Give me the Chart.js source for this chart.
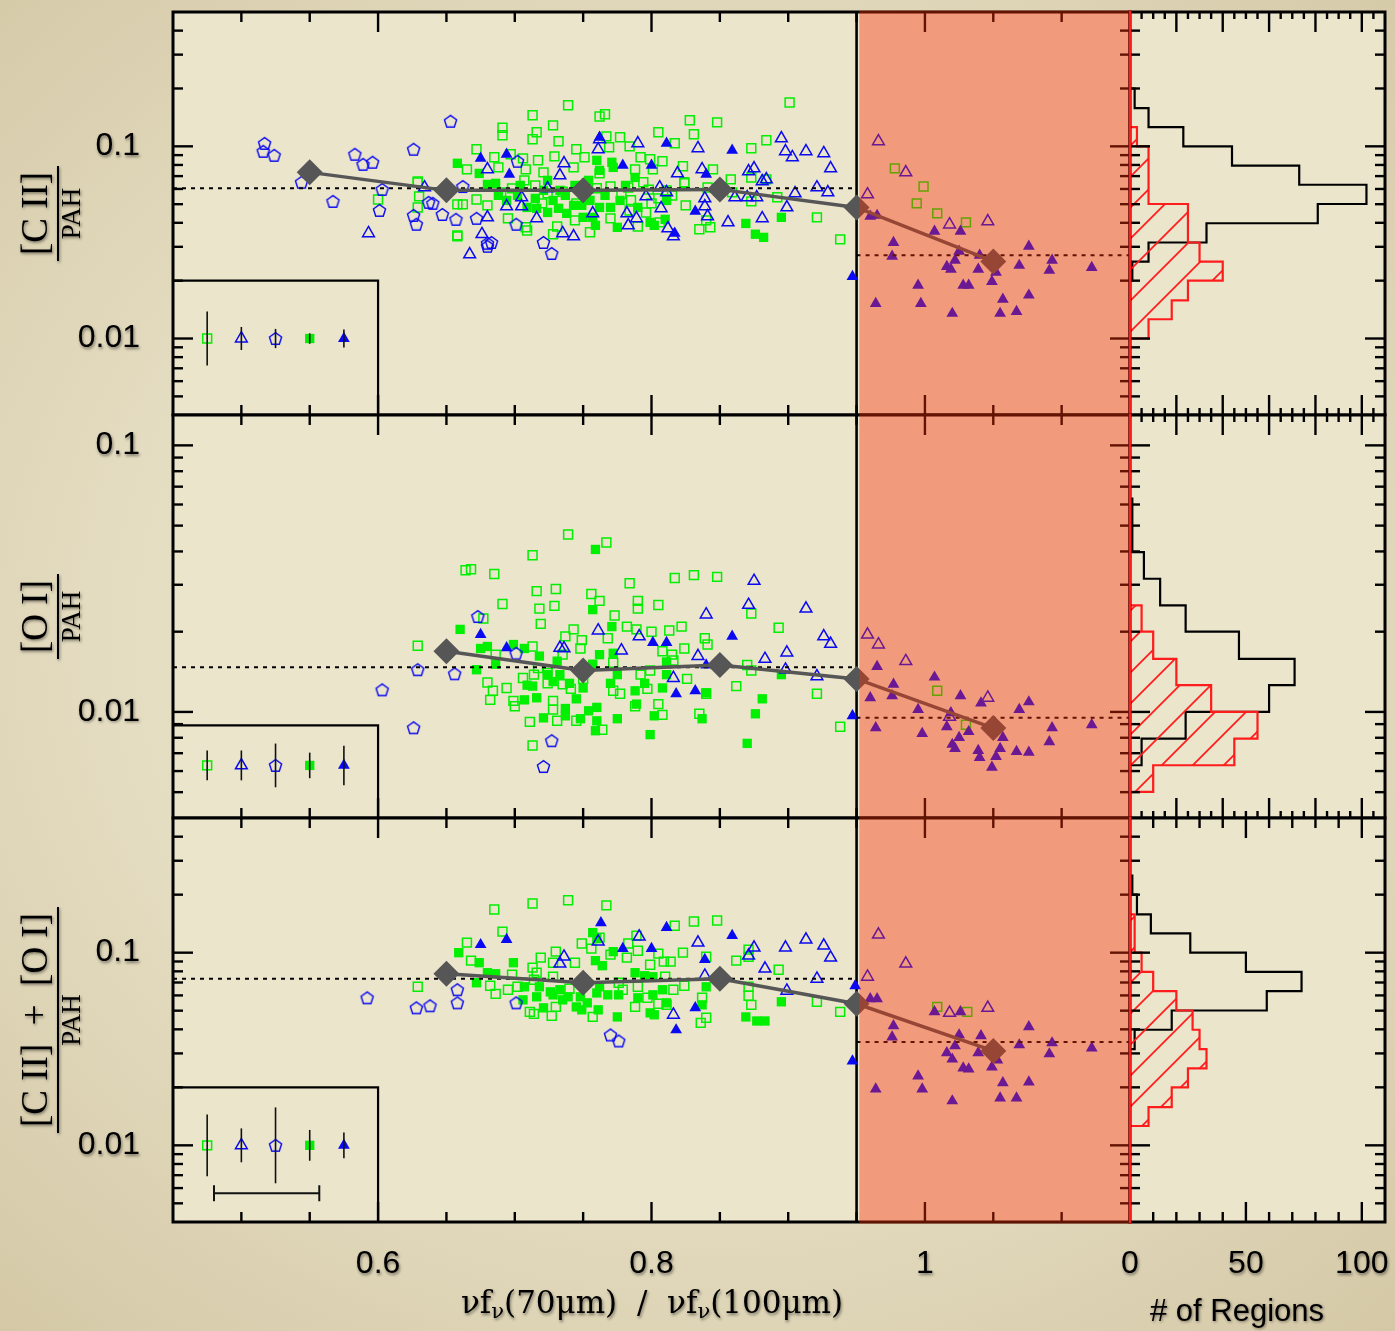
<!DOCTYPE html>
<html lang="en">
<head>
<meta charset="utf-8">
<title>[C II], [O I] / PAH vs far-IR colour</title>
<script src="https://cdn.jsdelivr.net/npm/chart.js@4.4.1/dist/chart.umd.min.js"></script>
<style>
  html, body { margin: 0; padding: 0; }
  body {
    width: 1395px; height: 1331px; position: relative; overflow: hidden;
    background: radial-gradient(ellipse 75% 70% at 50% 48%, #ebe5cd 0%, #e5ddc2 55%, #d4c8a6 100%);
  }
  canvas { position: absolute; }
</style>
</head>
<body>
<script>
// ---- Axes / ticks ----
const X_MIN = 0.45, X_MAX = 1.15;
const Y_RANGES = [[0.004, 0.5], [0.004, 0.13], [0.004, 0.5]];
const xTickLabels = [0.6, 0.8, 1];
const yTickLabels = [0.01, 0.1];
const countTickLabels = [0, 50, 100];
const COUNT_MAX = 110;
const lineX = 0.95;        // vertical divider
const shadeFrom = 0.952;   // start of the shaded (warm) region

const yTitleTop = ['[C II]', '[O I]', '[C II]  +  [O I]'];
const yTitleBottom = 'PAH';

// ---- Binned medians (grey diamonds) and dotted medians ----
const trendX = [0.55, 0.65, 0.75, 0.85, 0.95, 1.05];
const trendY1 = [0.0732, 0.059, 0.059, 0.0597, 0.0481, 0.0252];
const trendY2 = [null, 0.0169, 0.0143, 0.015, 0.0133, 0.0087];
const trendY3 = [null, 0.0777, 0.0698, 0.0732, 0.0543, 0.0309];
const medianLeft = [0.0605, 0.0147, 0.0732];
const medianRight = [0.0271, 0.0095, 0.0344];

// ---- Typical error bars (inset boxes) ----
const insetX = [0.475, 0.5, 0.525, 0.55, 0.575];
const insetY = [0.01, 0.0063, 0.01];
const insetTop = [0.02, 0.0089, 0.02];
const insetErr1 = [0.14, 0.06, 0.05, 0.027, 0.047];   // dex
const insetErr2 = [0.056, 0.056, 0.082, 0.048, 0.074];
const insetErr3 = [0.16, 0.088, 0.197, 0.08, 0.067];
const xErrCenter = 0.5185, xErrHalf = 0.0385, xErrLevel = 0.00564;

// ---- Panel 1: [C II]/PAH ----
const p1GreenOpen = [[0.600,0.0529],[0.629,0.0649],[0.630,0.0549],[0.629,0.0481],[0.658,0.034],[0.658,0.0499],
  [0.739,0.1635],[0.901,0.169],[0.713,0.145],[0.762,0.143],[0.766,0.147],[0.728,0.1286],
  [0.691,0.125],[0.691,0.1141],[0.716,0.1183],[0.713,0.1088],[0.732,0.1062],[0.767,0.1127],
  [0.777,0.1115],[0.805,0.1183],[0.828,0.1366],[0.848,0.1333],[0.831,0.1155],[0.817,0.1037],
  [0.884,0.1075],[0.873,0.0977],[0.672,0.0965],[0.685,0.0877],[0.697,0.0909],[0.706,0.0866],
  [0.717,0.0846],[0.729,0.0887],[0.745,0.0965],[0.751,0.0877],[0.769,0.0989],[0.784,0.1],
  [0.792,0.0877],[0.799,0.0856],[0.808,0.0836],[0.823,0.0787],[0.845,0.0759],[0.665,0.0759],
  [0.688,0.0777],[0.708,0.0759],[0.721,0.0732],[0.743,0.0777],[0.762,0.0723],[0.788,0.0759],
  [0.801,0.0759],[0.824,0.065],[0.858,0.0673],[0.873,0.0689],[0.884,0.0673],[0.629,0.0657],
  [0.662,0.0499],[0.672,0.0529],[0.680,0.0493],[0.698,0.0604],[0.707,0.0665],[0.724,0.0569],
  [0.770,0.0618],[0.783,0.0611],[0.794,0.065],[0.805,0.0536],[0.824,0.0642],[0.811,0.059],
  [0.841,0.0611],[0.859,0.0576],[0.873,0.0517],[0.892,0.0543],[0.658,0.0344],[0.695,0.0422],
  [0.709,0.0365],[0.708,0.0379],[0.731,0.0383],[0.728,0.0349],[0.744,0.0412],[0.755,0.0357],
  [0.770,0.0422],[0.790,0.0383],[0.806,0.0402],[0.825,0.0493],[0.835,0.037],[0.843,0.0379],
  [0.921,0.0427],[0.938,0.0328],[0.840,0.0412],[0.796,0.0453],[0.784,0.0464],
  [0.735,0.058],[0.752,0.0545],[0.778,0.0565],[0.798,0.0595],[0.815,0.0555],[0.690,0.0575],
  [0.715,0.0625],[0.760,0.0605],[0.785,0.0525],[0.745,0.0505],[0.720,0.0505],[0.800,0.0505],
  [0.978,0.0768],[0.999,0.0618],[0.994,0.0505],[1.009,0.0448],[1.030,0.0402]];
const p1GreenFilled = [[0.658,0.0816],[0.674,0.0723],[0.680,0.0634],[0.686,0.0642],[0.715,0.0536],[0.716,0.0476],
  [0.748,0.059],[0.760,0.0846],[0.762,0.075],[0.771,0.0826],[0.772,0.0777],[0.775,0.0379],
  [0.770,0.0481],[0.788,0.0689],[0.790,0.0481],[0.799,0.0402],[0.802,0.0388],[0.810,0.0417],
  [0.811,0.0523],[0.869,0.0397],[0.876,0.0349],[0.882,0.0336],[0.895,0.0427],[0.759,0.0388],
  [0.750,0.0427],[0.738,0.0448],[0.732,0.0476],[0.728,0.0523],[0.743,0.0493],[0.737,0.0556],
  [0.724,0.0453],[0.721,0.059],[0.724,0.0665],[0.754,0.0665],[0.755,0.0523],[0.762,0.0481],
  [0.757,0.0427],[0.694,0.0523],[0.702,0.0556],[0.709,0.0481],[0.749,0.0493],
  [0.733,0.059],[0.744,0.0626],[0.766,0.0556],[0.777,0.0523],[0.781,0.0626],[0.704,0.0626],[0.688,0.0556]];
const p1Pent = [[0.517,0.1036],[0.516,0.0942],[0.524,0.0898],[0.544,0.065],[0.567,0.0517],[0.583,0.0909],
  [0.589,0.0806],[0.596,0.0826],[0.603,0.0597],[0.601,0.0464],[0.626,0.0965],[0.626,0.0437],
  [0.628,0.0393],[0.637,0.0511],[0.640,0.0505],[0.647,0.0442],[0.657,0.0417],[0.653,0.135],
  [0.662,0.0618],[0.672,0.0422],[0.702,0.0836],[0.701,0.0393],[0.680,0.0313],[0.680,0.0302],
  [0.683,0.0316],[0.721,0.0316],[0.727,0.0277]];
const p1TriOpen = [[0.593,0.0353],[0.634,0.0611],[0.667,0.0274],[0.680,0.0759],[0.680,0.0427],[0.676,0.0349],
  [0.694,0.0487],[0.705,0.0543],[0.705,0.0487],[0.716,0.0422],[0.724,0.0604],[0.733,0.0706],
  [0.736,0.0816],[0.735,0.0353],[0.743,0.034],[0.757,0.0448],[0.761,0.0965],[0.762,0.1088],
  [0.790,0.1037],[0.782,0.0448],[0.783,0.0388],[0.789,0.0422],[0.796,0.0549],[0.806,0.0611],
  [0.807,0.0476],[0.811,0.0576],[0.812,0.0374],[0.816,0.034],[0.819,0.0723],[0.834,0.0977],
  [0.837,0.0759],[0.839,0.0536],[0.839,0.0487],[0.841,0.0432],[0.856,0.0402],[0.861,0.0543],
  [0.870,0.0543],[0.871,0.0741],[0.875,0.0768],[0.877,0.0543],[0.881,0.0657],[0.884,0.0673],
  [0.881,0.0422],[0.895,0.110],[0.898,0.0942],[0.903,0.0877],[0.899,0.0481],[0.905,0.0569],
  [0.913,0.0942],[0.921,0.0611],[0.926,0.092],[0.929,0.0576],[0.931,0.0768],
  [0.958,0.0562],[0.966,0.1062],[0.986,0.0732],[1.018,0.0392],[1.046,0.0407]];
const p1TriFilled = [[0.675,0.0866],[0.694,0.0909],[0.696,0.0715],[0.762,0.1115],[0.779,0.0796],[0.811,0.1037],
  [0.800,0.0796],[0.832,0.0459],[0.840,0.0715],[0.859,0.0953],[0.817,0.0353],[0.947,0.021],
  [0.960,0.0432],[0.965,0.0437],[1.007,0.0361],[1.026,0.0361],[0.977,0.0316],[0.976,0.0268],
  [1.025,0.0284],[1.022,0.0255],[1.016,0.0237],[1.019,0.0229],[1.039,0.0229],[1.040,0.0271],
  [1.052,0.0221],[1.049,0.0198],[1.076,0.0302],[1.069,0.024],[1.093,0.0255],[1.091,0.0226],
  [1.122,0.0234],[0.995,0.0189],[1.028,0.0189],[1.032,0.0189],[0.964,0.0152],[0.997,0.0152],
  [1.020,0.0135],[1.057,0.016],[1.076,0.0168],[1.055,0.0135],[1.067,0.0138]];

// ---- Panel 2: [O I]/PAH ----
const p2GreenOpen = [[0.739,0.0463],[0.767,0.0432],[0.713,0.0387],[0.664,0.034],[0.668,0.0343],[0.685,0.0329],
  [0.716,0.0284],[0.730,0.0289],[0.691,0.0254],[0.718,0.0244],[0.729,0.025],[0.756,0.0277],
  [0.762,0.0261],[0.784,0.0304],[0.817,0.0318],[0.831,0.0326],[0.848,0.0321],[0.719,0.0214],
  [0.677,0.0224],[0.773,0.023],[0.790,0.0261],[0.790,0.0244],[0.805,0.0252],[0.782,0.0209],
  [0.789,0.0204],[0.800,0.02],[0.813,0.0202],[0.822,0.0209],[0.893,0.0207],[0.873,0.0234],
  [0.629,0.0177],[0.737,0.0192],[0.743,0.0204],[0.749,0.0186],[0.768,0.0189],[0.748,0.0173],
  [0.735,0.0164],[0.713,0.0176],[0.686,0.0164],[0.824,0.0173],[0.808,0.0169],[0.815,0.0164],
  [0.839,0.0189],[0.841,0.0179],[0.870,0.015],[0.873,0.0143],[0.862,0.0125],[0.921,0.0117],
  [0.938,0.0088],[0.680,0.0129],[0.684,0.012],[0.682,0.0111],[0.694,0.0123],[0.699,0.011],
  [0.700,0.0105],[0.714,0.0138],[0.724,0.0128],[0.728,0.011],[0.728,0.0102],[0.711,0.00918],
  [0.713,0.00748],[0.731,0.00926],[0.745,0.00926],[0.764,0.00857],[0.741,0.0122],[0.772,0.012],
  [0.777,0.0117],[0.797,0.0122],[0.805,0.0107],[0.788,0.0105],[0.808,0.00975],[0.835,0.00984],
  [0.840,0.0117],[0.816,0.0156],[0.772,0.0153],[0.750,0.0133],[0.735,0.0127],[0.724,0.014],
  [0.706,0.0134],[0.717,0.0146],[0.799,0.0143],[0.792,0.0138],[0.826,0.0133],
  [1.009,0.012],[1.030,0.00895]];
const p2GreenFilled = [[0.759,0.0407],[0.757,0.0242],[0.660,0.0204],[0.672,0.0144],[0.675,0.0173],[0.680,0.0176],
  [0.686,0.0151],[0.699,0.0179],[0.707,0.0173],[0.718,0.0162],[0.731,0.0155],[0.733,0.0138],
  [0.709,0.0126],[0.707,0.0111],[0.716,0.0113],[0.721,0.0095],[0.737,0.0103],[0.737,0.00967],
  [0.745,0.0112],[0.748,0.00943],[0.754,0.0101],[0.760,0.0104],[0.760,0.00926],[0.759,0.0085],
  [0.762,0.0164],[0.771,0.0209],[0.772,0.0166],[0.770,0.0128],[0.775,0.0138],[0.775,0.00943],
  [0.788,0.012],[0.789,0.0107],[0.795,0.0128],[0.802,0.00967],[0.799,0.00822],[0.808,0.0123],
  [0.811,0.0138],[0.811,0.0154],[0.840,0.0118],[0.837,0.00943],[0.881,0.0112],[0.876,0.00984],
  [0.870,0.00762],[0.895,0.0138],[0.757,0.0151],[0.750,0.0123],[0.740,0.0128],[0.728,0.013],
  [0.724,0.0138],[0.713,0.0125]];
const p2Pent = [[0.673,0.0228],[0.701,0.0166],[0.629,0.0144],[0.656,0.0139],[0.603,0.0121],[0.626,0.00872],
  [0.727,0.0078],[0.721,0.00624]];
const p2TriOpen = [[0.875,0.031],[0.871,0.0252],[0.840,0.0232],[0.913,0.0244],[0.926,0.0192],[0.931,0.018],
  [0.834,0.0162],[0.883,0.0158],[0.899,0.0167],[0.898,0.0144],[0.921,0.0136],[0.816,0.0134],
  [0.791,0.0192],[0.761,0.0202],[0.733,0.0174],[0.736,0.0173],[0.778,0.017],
  [0.958,0.0195],[0.966,0.0179],[0.986,0.0155],[1.046,0.0113],[1.018,0.00959]];
const p2TriFilled = [[0.675,0.0195],[0.694,0.0174],[0.801,0.0182],[0.811,0.0182],[0.859,0.0192],[0.818,0.0117],
  [0.832,0.012],[0.840,0.015],[0.947,0.00967],
  [0.965,0.0148],[0.977,0.0127],[0.976,0.0115],[0.960,0.0113],[1.007,0.0135],[1.026,0.0115],
  [0.995,0.0102],[1.019,0.00992],[1.041,0.0108],[1.069,0.0102],[1.076,0.0109],[0.964,0.00872],
  [0.998,0.00829],[1.016,0.0088],[1.025,0.00801],[1.032,0.00843],[1.020,0.00755],[1.022,0.00729],
  [1.039,0.00716],[1.040,0.00674],[1.057,0.00801],[1.055,0.00729],[1.052,0.0068],[1.049,0.0062],
  [1.067,0.0071],[1.076,0.00705],[1.093,0.00872],[1.091,0.00773],[1.122,0.00895]];

// ---- Panel 3: ([C II]+[O I])/PAH ----
const p3GreenOpen = [[0.739,0.187],[0.713,0.180],[0.685,0.1675],[0.767,0.176],[0.691,0.1286],[0.665,0.1127],
  [0.668,0.0909],[0.730,0.1012],[0.749,0.1115],[0.756,0.1049],[0.762,0.1197],[0.817,0.138],
  [0.831,0.145],[0.848,0.147],[0.789,0.1226],[0.783,0.1115],[0.790,0.1024],[0.805,0.0989],
  [0.823,0.1],[0.840,0.0953],[0.809,0.0898],[0.814,0.0898],[0.782,0.0942],[0.770,0.0977],
  [0.719,0.0942],[0.728,0.0887],[0.744,0.0887],[0.713,0.0836],[0.716,0.0787],[0.862,0.0909],
  [0.871,0.1037],[0.893,0.0816],[0.871,0.0953],[0.629,0.0665],[0.698,0.0768],[0.682,0.0673],
  [0.686,0.0611],[0.695,0.0642],[0.702,0.0665],[0.714,0.0723],[0.728,0.075],[0.711,0.0493],
  [0.714,0.0481],[0.727,0.047],[0.730,0.0523],[0.740,0.065],[0.788,0.0523],[0.797,0.0583],
  [0.790,0.0665],[0.799,0.0866],[0.810,0.075],[0.816,0.0642],[0.824,0.0673],[0.805,0.0543],
  [0.811,0.0536],[0.837,0.0583],[0.836,0.0432],[0.840,0.0459],[0.871,0.0665],[0.871,0.0597],
  [0.873,0.0536],[0.921,0.0556],[0.938,0.0493],[0.757,0.0464],[0.776,0.0698],[0.779,0.0642],
  [1.009,0.0523],[1.031,0.0493]];
const p3GreenFilled = [[0.757,0.127],[0.659,0.1],[0.674,0.0887],[0.699,0.0887],[0.680,0.0787],[0.686,0.0777],
  [0.672,0.0698],[0.760,0.1183],[0.772,0.1012],[0.759,0.0909],[0.764,0.0856],[0.788,0.0787],
  [0.795,0.0759],[0.801,0.075],[0.707,0.0665],[0.718,0.0665],[0.726,0.0626],[0.733,0.0642],
  [0.739,0.059],[0.748,0.059],[0.753,0.0549],[0.760,0.0618],[0.762,0.0665],[0.706,0.0569],
  [0.716,0.059],[0.721,0.0517],[0.745,0.0523],[0.749,0.0505],[0.761,0.0505],[0.768,0.0604],
  [0.776,0.0604],[0.790,0.0583],[0.801,0.0604],[0.808,0.0642],[0.811,0.0549],[0.775,0.0464],
  [0.799,0.0487],[0.802,0.0476],[0.840,0.0665],[0.837,0.0536],[0.895,0.0556],[0.869,0.0464],
  [0.877,0.0442],[0.883,0.0442],[0.735,0.0569],[0.728,0.0604]];
const p3Pent = [[0.658,0.0642],[0.658,0.0549],[0.628,0.0517],[0.638,0.053],[0.701,0.0549],[0.770,0.0374],
  [0.776,0.0348],[0.592,0.0583]];
const p3TriOpen = [[0.761,0.1141],[0.791,0.1211],[0.736,0.0953],[0.733,0.0877],[0.834,0.1127],[0.875,0.1062],
  [0.871,0.0965],[0.883,0.0826],[0.898,0.1062],[0.913,0.1168],[0.926,0.1088],[0.931,0.0942],
  [0.921,0.0732],[0.899,0.0634],[0.839,0.0759],[0.816,0.0476],
  [0.966,0.124],[0.986,0.0877],[0.958,0.075],[1.018,0.0487],[1.046,0.0517]];
const p3TriFilled = [[0.675,0.110],[0.694,0.1168],[0.763,0.143],[0.811,0.135],[0.779,0.1049],[0.800,0.1049],
  [0.859,0.1226],[0.839,0.092],[0.832,0.0517],[0.818,0.0397],[0.949,0.0673],[0.947,0.0274],
  [0.960,0.0576],[0.965,0.0576],[1.007,0.0493],[1.026,0.0493],[0.977,0.0417],[0.976,0.0365],
  [1.025,0.0374],[1.022,0.0328],[1.016,0.0302],[1.020,0.028],[1.041,0.037],[1.039,0.0302],
  [1.076,0.0412],[1.069,0.0332],[1.093,0.034],[1.091,0.0298],[1.122,0.032],[1.053,0.0277],
  [1.049,0.0255],[1.028,0.0252],[1.032,0.0249],[0.995,0.0229],[0.998,0.0196],[0.964,0.0196],
  [1.020,0.017],[1.057,0.0211],[1.076,0.0213],[1.055,0.0176],[1.067,0.0176]];

// ---- Histograms (0.1 dex bins) ----
const binEdges = [0.00501, 0.00631, 0.00794, 0.0100, 0.0126, 0.0158, 0.0200, 0.0251, 0.0316,
  0.0398, 0.0501, 0.0631, 0.0794, 0.100, 0.126, 0.158, 0.200, 0.251];
const hist1All  = [0,0,0,0,0,0,1,8,33,81,102,73,44,23,8,2,0];
const hist1Warm = [0,0,0,8,18,25,40,30,25,25,8,8,8,3,0,0,0];
const hist2All  = [0,5,24,60,71,47,24,13,6,1,1,0,0,0,0,0,0];
const hist2Warm = [10,45,55,35,20,10,5,0,0,0,0,0,0,0,0,0,0];
const hist3All  = [0,0,0,0,0,0,0,0,2,18,59,74,50,26,9,3,1];
const hist3Warm = [0,0,0,0,8,18,25,33,30,27,20,10,5,2,2,0,0];

// ---- Styling ----
const GREEN = '#00f000';
const BLUE = '#0a0af2';
const DIAMOND = '#565656';
const HIST_RED = '#ff1c1c';
const SHADE = 'rgba(250, 44, 5, 0.4)';
const PLOT_BG = '#ebe5cc';
const SANS = "'Liberation Sans', Arial, sans-serif";
const SERIF = "'Liberation Serif', 'Times New Roman', serif";

// Page geometry
const PLOT_LEFT = 173;
const PANEL_TOPS = [12, 415, 818];
const PANEL_BOTTOMS = [415, 818, 1222];
const PAGE_H = 1331;
const PAD = 25;

const panelSeries = [
  { greenOpen: p1GreenOpen, greenFilled: p1GreenFilled, pent: p1Pent, triOpen: p1TriOpen, triFilled: p1TriFilled },
  { greenOpen: p2GreenOpen, greenFilled: p2GreenFilled, pent: p2Pent, triOpen: p2TriOpen, triFilled: p2TriFilled },
  { greenOpen: p3GreenOpen, greenFilled: p3GreenFilled, pent: p3Pent, triOpen: p3TriOpen, triFilled: p3TriFilled }
];
const trendY = [trendY1, trendY2, trendY3];
const insetErr = [insetErr1, insetErr2, insetErr3];
const histAll = [hist1All, hist2All, hist3All];
const histWarm = [hist1Warm, hist2Warm, hist3Warm];

Chart.defaults.font.family = SANS;
Chart.defaults.color = '#000';

// Helpers
function textShadow(ctx) {
  ctx.shadowColor = 'rgba(0, 0, 0, 0.45)';
  ctx.shadowBlur = 3;
  ctx.shadowOffsetX = 1;
  ctx.shadowOffsetY = 1.5;
}

function noShadow(ctx) {
  ctx.shadowColor = 'rgba(0, 0, 0, 0)';
  ctx.shadowBlur = 0;
  ctx.shadowOffsetX = 0;
  ctx.shadowOffsetY = 0;
}

function line(ctx, x1, y1, x2, y2) {
  ctx.beginPath();
  ctx.moveTo(x1, y1);
  ctx.lineTo(x2, y2);
  ctx.stroke();
}

function logTicks(min, max) {
  const out = [];
  for (let e = Math.floor(Math.log10(min)); e <= Math.ceil(Math.log10(max)); e++) {
    for (let m = 1; m <= 9; m++) {
      const v = m * Math.pow(10, e);
      if (v > min && v < max) out.push({ v, major: m === 1 });
    }
  }
  return out;
}

function makePentagon(color) {
  const c = document.createElement('canvas');
  c.width = 17; c.height = 17;
  const g = c.getContext('2d');
  g.strokeStyle = color;
  g.lineWidth = 1.4;
  g.beginPath();
  for (let i = 0; i < 5; i++) {
    const a = -Math.PI / 2 + i * 2 * Math.PI / 5;
    const px = 8.5 + 6.4 * Math.cos(a), py = 9 + 6.4 * Math.sin(a);
    if (i) g.lineTo(px, py); else g.moveTo(px, py);
  }
  g.closePath();
  g.stroke();
  return c;
}
const pentagon = makePentagon(BLUE);

function makeCanvas(left, top, w, h) {
  const c = document.createElement('canvas');
  c.width = w; c.height = h;
  c.style.left = left + 'px';
  c.style.top = top + 'px';
  c.style.width = w + 'px';
  c.style.height = h + 'px';
  document.body.appendChild(c);
  return c;
}

// Rotated fraction used as y axis title
function drawFraction(ctx, cx, cy, top, bottom) {
  ctx.save();
  ctx.translate(cx, cy);
  ctx.rotate(-Math.PI / 2);
  textShadow(ctx);
  ctx.fillStyle = '#000';
  ctx.strokeStyle = '#000';
  ctx.textAlign = 'center';
  ctx.textBaseline = 'middle';
  ctx.font = `37px ${SERIF}`;
  const w = ctx.measureText(top).width;
  ctx.fillText(top, 0, -21);
  ctx.font = `27px ${SERIF}`;
  ctx.fillText(bottom, 0, 15);
  ctx.lineWidth = 2;
  line(ctx, -w / 2 - 6, 0, w / 2 + 6, 0);
  ctx.restore();
}

// Text with subscripts, centred on (cx, cy)
function drawSubText(ctx, parts, cx, cy) {
  const main = `31px 'DejaVu Serif', ${SERIF}`, sub = `21px 'DejaVu Serif', ${SERIF}`;
  let w = 0;
  parts.forEach(([t, s]) => { ctx.font = s ? sub : main; w += ctx.measureText(t).width; });
  let x = cx - w / 2;
  ctx.textAlign = 'left';
  ctx.textBaseline = 'middle';
  parts.forEach(([t, s]) => {
    ctx.font = s ? sub : main;
    ctx.fillText(t, x, cy + (s ? 8 : 0));
    x += ctx.measureText(t).width;
  });
}

// Scatter panel decorations
const scatterFrame = {
  id: 'scatterFrame',
  beforeDraw(chart) {
    const { ctx, chartArea: a } = chart;
    ctx.save();
    ctx.fillStyle = PLOT_BG;
    ctx.fillRect(a.left, a.top, a.width, a.height);
    ctx.restore();
    textShadow(ctx); // picked up by the tick labels
  },
  beforeDatasetsDraw(chart, args, opts) {
    const { ctx, chartArea: a, scales: { x, y } } = chart;
    noShadow(ctx);
    ctx.save();
    ctx.strokeStyle = '#000';
    // inset box with the typical error bars
    ctx.lineWidth = 2.2;
    const bx = x.getPixelForValue(0.6), by = y.getPixelForValue(insetTop[opts.panel]);
    ctx.beginPath();
    ctx.moveTo(a.left, by);
    ctx.lineTo(bx, by);
    ctx.lineTo(bx, a.bottom);
    ctx.stroke();
    // divider
    ctx.lineWidth = 2.6;
    const lx = x.getPixelForValue(lineX);
    line(ctx, lx, a.top, lx, a.bottom);
    ctx.restore();
  },
  afterDatasetsDraw(chart, args, opts) {
    const { ctx, chartArea: a, scales: { x, y } } = chart;
    const k = opts.panel;
    ctx.save();
    ctx.strokeStyle = '#111';
    ctx.lineWidth = 1.6;
    // error bars
    insetX.forEach((xv, i) => {
      const d = Math.pow(10, insetErr[k][i]);
      const px = x.getPixelForValue(xv);
      line(ctx, px, y.getPixelForValue(insetY[k] / d), px, y.getPixelForValue(insetY[k] * d));
    });
    if (k === 2) {
      const py = y.getPixelForValue(xErrLevel);
      const x1 = x.getPixelForValue(xErrCenter - xErrHalf), x2 = x.getPixelForValue(xErrCenter + xErrHalf);
      ctx.lineWidth = 2;
      line(ctx, x1, py, x2, py);
      line(ctx, x1, py - 8, x1, py + 8);
      line(ctx, x2, py - 8, x2, py + 8);
    }
    // inward ticks
    ctx.strokeStyle = '#000';
    ctx.lineWidth = 2.4;
    logTicks(y.min, y.max).forEach(t => {
      const py = y.getPixelForValue(t.v), len = t.major ? 20 : 10;
      line(ctx, a.left, py, a.left + len, py);
      line(ctx, a.right, py, a.right - len, py);
    });
    for (let i = 1; ; i++) {
      const v = X_MIN + 0.05 * i;
      if (v > X_MAX - 1e-6) break;
      const major = xTickLabels.some(t => Math.abs(t - v) < 1e-6);
      const px = x.getPixelForValue(v), len = major ? 20 : 10;
      line(ctx, px, a.top, px, a.top + len);
      line(ctx, px, a.bottom, px, a.bottom - len);
    }
    // frame
    ctx.lineWidth = 3;
    ctx.strokeRect(a.left, a.top, a.width, a.height);
    ctx.restore();
  },
  afterDraw(chart, args, opts) {
    const { ctx, chartArea: a, scales: { x } } = chart;
    const k = opts.panel;
    ctx.save();
    // translucent shading of the warm region
    const sx = x.getPixelForValue(shadeFrom);
    ctx.fillStyle = SHADE;
    ctx.fillRect(sx, a.top - 1.5, a.right + 1.5 - sx, a.height + 3);
    // axis titles
    drawFraction(ctx, 58, (a.top + a.bottom) / 2, yTitleTop[k], yTitleBottom);
    if (k === 2) {
      textShadow(ctx);
      ctx.fillStyle = '#000';
      drawSubText(ctx, [['νf', 0], ['ν', 1], ['(70μm)  /  νf', 0], ['ν', 1], ['(100μm)', 0]], 652, a.bottom + 83);
    }
    ctx.restore();
  }
};

// Histogram panel decorations
const histFrame = {
  id: 'histFrame',
  beforeDraw(chart) {
    const { ctx, chartArea: a } = chart;
    ctx.save();
    ctx.fillStyle = PLOT_BG;
    ctx.fillRect(a.left, a.top, a.width, a.height);
    ctx.restore();
    textShadow(ctx);
  },
  beforeDatasetsDraw(chart) {
    noShadow(chart.ctx);
  },
  afterDatasetsDraw(chart, args, opts) {
    const { ctx, chartArea: a, scales: { x, y } } = chart;
    const k = opts.panel;
    // hatching inside the warm-region histogram
    ctx.save();
    const pts = chart.getDatasetMeta(0).data;
    ctx.beginPath();
    pts.forEach((p, i) => (i ? ctx.lineTo(p.x, p.y) : ctx.moveTo(p.x, p.y)));
    ctx.closePath();
    ctx.clip();
    ctx.strokeStyle = HIST_RED;
    ctx.lineWidth = 1.8;
    for (let c = a.left + a.top - 300; c < a.right + a.bottom + 300; c += 31) {
      line(ctx, a.left - 10, c - (a.left - 10), a.right + 10, c - (a.right + 10));
    }
    ctx.restore();

    ctx.save();
    ctx.strokeStyle = '#000';
    ctx.lineWidth = 2.4;
    logTicks(y.min, y.max).forEach(t => {
      const py = y.getPixelForValue(t.v), len = t.major ? 20 : 10;
      line(ctx, a.left, py, a.left + len, py);
      line(ctx, a.right, py, a.right - len, py);
    });
    const minor = k === 2 ? 10 : 5, major = k === 2 ? 50 : 20, minorLen = k === 2 ? 10 : 7;
    for (let v = minor; v < COUNT_MAX; v += minor) {
      const px = x.getPixelForValue(v), len = v % major === 0 ? 20 : minorLen;
      line(ctx, px, a.top, px, a.top + len);
      line(ctx, px, a.bottom, px, a.bottom - len);
    }
    ctx.lineWidth = 3;
    ctx.strokeRect(a.left, a.top, a.width, a.height);
    // zero line of the warm histogram
    ctx.strokeStyle = HIST_RED;
    ctx.lineWidth = 2.6;
    const zx = x.getPixelForValue(0);
    line(ctx, zx, a.top - 1.5, zx, a.bottom + 1.5);
    ctx.restore();
  },
  afterDraw(chart, args, opts) {
    if (opts.panel !== 2) return;
    const { ctx, chartArea: a } = chart;
    ctx.save();
    textShadow(ctx);
    ctx.fillStyle = '#000';
    ctx.font = `31px ${SANS}`;
    ctx.textAlign = 'center';
    ctx.textBaseline = 'middle';
    ctx.fillText('# of Regions', a.left + 107, a.bottom + 90);
    ctx.restore();
  }
};

// Build one outline polygon from bin counts
function histOutline(counts) {
  const a = counts.findIndex(c => c > 0);
  let b = counts.length - 1;
  while (b > a && counts[b] === 0) b--;
  const pts = [{ x: 0, y: binEdges[a] }];
  for (let i = a; i <= b; i++) {
    pts.push({ x: counts[i], y: binEdges[i] });
    pts.push({ x: counts[i], y: binEdges[i + 1] });
  }
  pts.push({ x: 0, y: binEdges[b + 1] });
  return pts;
}

function scatterDatasets(k) {
  const d = panelSeries[k];
  const xy = arr => arr.map(p => ({ x: p[0], y: p[1] }));
  const none = 'rgba(0,0,0,0)';
  const trend = trendX.map((x, i) => ({ x, y: trendY[k][i] })).filter(p => p.y !== null);
  return [
    { label: 'binned median', data: trend, showLine: true, borderColor: DIAMOND, borderWidth: 3.5,
      pointStyle: 'rectRot', pointRadius: 13, pointBackgroundColor: DIAMOND, pointBorderWidth: 0, order: 0 },
    { label: 'median', data: [{ x: X_MIN, y: medianLeft[k] }, { x: lineX, y: medianLeft[k] }], showLine: true,
      borderColor: '#000', borderWidth: 2, borderDash: [4, 5], pointRadius: 0, order: 1 },
    { label: 'median (warm)', data: [{ x: lineX, y: medianRight[k] }, { x: X_MAX, y: medianRight[k] }], showLine: true,
      borderColor: '#000', borderWidth: 2, borderDash: [4, 5], pointRadius: 0, order: 1 },
    { label: 'typical errors', data: insetX.map(x => ({ x, y: insetY[k] })),
      pointStyle: ['rect', 'triangle', pentagon, 'rect', 'triangle'], pointRadius: [6.3, 6.8, 7, 6.6, 6.8],
      pointBackgroundColor: [none, none, none, GREEN, BLUE], pointBorderColor: [GREEN, BLUE, BLUE, GREEN, BLUE],
      pointBorderWidth: [1.5, 1.5, 0, 0, 0], order: 2 },
    { label: 'filled triangles', data: xy(d.triFilled), pointStyle: 'triangle', pointRadius: 6.8,
      pointBackgroundColor: BLUE, pointBorderWidth: 0, order: 3 },
    { label: 'open triangles', data: xy(d.triOpen), pointStyle: 'triangle', pointRadius: 6.8,
      pointBackgroundColor: none, pointBorderColor: BLUE, pointBorderWidth: 1.5, order: 4 },
    { label: 'pentagons', data: xy(d.pent), pointStyle: pentagon, pointRadius: 7, order: 5 },
    { label: 'filled squares', data: xy(d.greenFilled), pointStyle: 'rect', pointRadius: 6.6,
      pointBackgroundColor: GREEN, pointBorderWidth: 0, order: 6 },
    { label: 'open squares', data: xy(d.greenOpen), pointStyle: 'rect', pointRadius: 6.3,
      pointBackgroundColor: none, pointBorderColor: GREEN, pointBorderWidth: 1.5, order: 7 }
  ];
}

// Create Charts
for (let k = 0; k < 3; k++) {
  const last = k === 2;
  const top = PANEL_TOPS[k] - PAD;
  const h = last ? PAGE_H - top : PANEL_BOTTOMS[k] - PANEL_TOPS[k] + 2 * PAD;
  const [yMin, yMax] = Y_RANGES[k];
  const labelFont = { family: SANS, size: 32 };
  // keep the plot area fixed: no extra room for label overhang
  const fitX = s => {
    if (last) s.height = PAGE_H - PANEL_BOTTOMS[2];
    s.paddingLeft = 0; s.paddingRight = 0;
  };

  new Chart(makeCanvas(0, top, 1150, h), {
    type: 'scatter',
    data: { datasets: scatterDatasets(k) },
    options: {
      responsive: false,
      animation: false,
      devicePixelRatio: 1,
      layout: { padding: { top: PAD, bottom: last ? 0 : PAD, left: 0, right: 20 } },
      plugins: { legend: { display: false }, tooltip: { enabled: false }, scatterFrame: { panel: k } },
      scales: {
        x: {
          type: 'linear', min: X_MIN, max: X_MAX, display: last,
          grid: { display: false, drawTicks: false }, border: { display: false },
          afterBuildTicks: s => { s.ticks = xTickLabels.map(v => ({ value: v })); },
          afterFit: fitX,
          ticks: { font: labelFont, color: '#000', padding: 23, maxRotation: 0, autoSkip: false, callback: v => String(v) }
        },
        y: {
          type: 'logarithmic', min: yMin, max: yMax,
          grid: { display: false, drawTicks: false }, border: { display: false },
          afterBuildTicks: s => { s.ticks = yTickLabels.map(v => ({ value: v })); },
          afterFit: s => { s.width = PLOT_LEFT; s.paddingTop = 0; s.paddingBottom = 0; },
          ticks: { font: labelFont, color: '#000', padding: 33, autoSkip: false, callback: v => String(v) }
        }
      }
    },
    plugins: [scatterFrame]
  });

  new Chart(makeCanvas(1110, top, 285, h), {
    type: 'scatter',
    data: {
      datasets: [
        { label: 'warm regions', data: histOutline(histWarm[k]), showLine: true, borderColor: HIST_RED,
          borderWidth: 2.2, pointRadius: 0, order: 0 },
        { label: 'all regions', data: histOutline(histAll[k]), showLine: true, borderColor: '#000',
          borderWidth: 2.2, pointRadius: 0, order: 1 }
      ]
    },
    options: {
      responsive: false,
      animation: false,
      devicePixelRatio: 1,
      layout: { padding: { top: PAD, bottom: last ? 0 : PAD, left: 20, right: 10 } },
      plugins: { legend: { display: false }, tooltip: { enabled: false }, histFrame: { panel: k } },
      scales: {
        x: {
          type: 'linear', min: 0, max: COUNT_MAX, display: last,
          grid: { display: false, drawTicks: false }, border: { display: false },
          afterBuildTicks: s => { s.ticks = countTickLabels.map(v => ({ value: v })); },
          afterFit: fitX,
          ticks: { font: labelFont, color: '#000', padding: 23, maxRotation: 0, autoSkip: false, callback: v => String(v) }
        },
        y: { type: 'logarithmic', min: yMin, max: yMax, display: false }
      }
    },
    plugins: [histFrame]
  });
}
</script>
</body>
</html>
